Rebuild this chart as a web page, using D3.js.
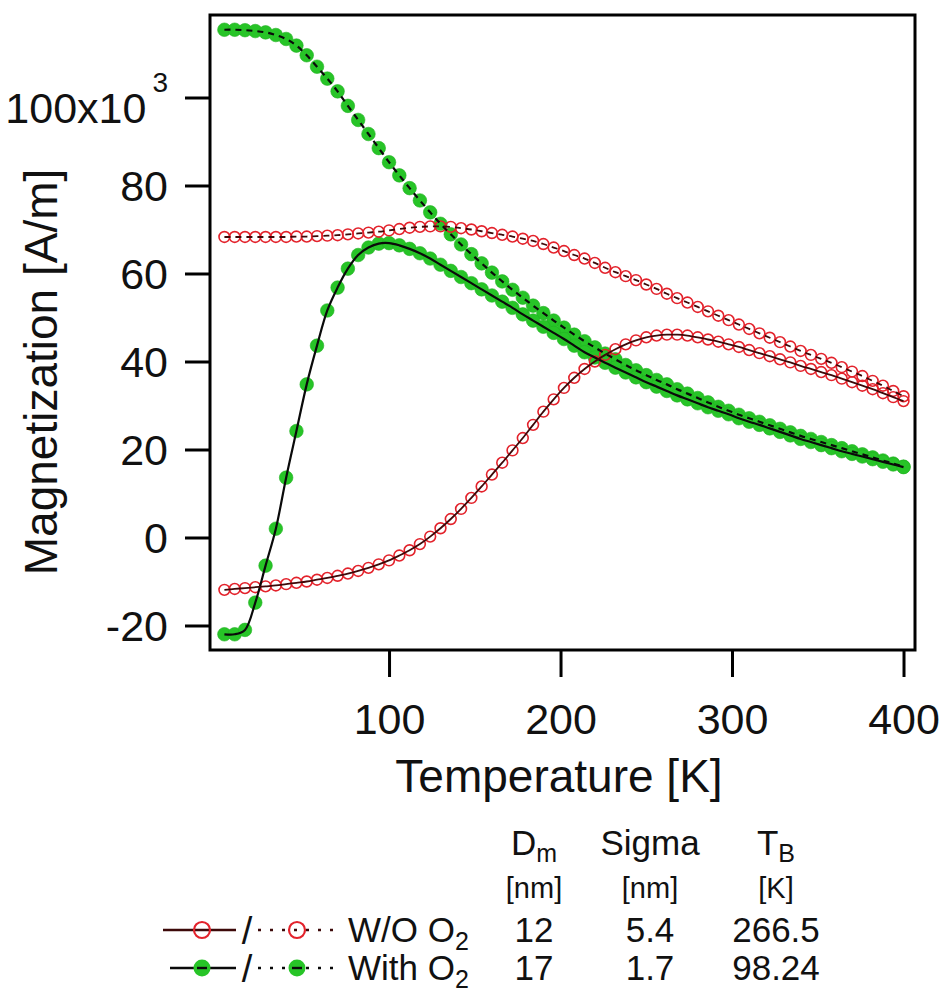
<!DOCTYPE html>
<html>
<head>
<meta charset="utf-8">
<script src="https://cdn.jsdelivr.net/npm/d3@7"></script>
<style>
  html, body { margin: 0; padding: 0; background: #fff; }
  svg { display: block; font-family: "Liberation Sans", Arial, Helvetica, sans-serif; }
</style>
</head>
<body>
<script>
// Temperature grid of the measurement [K]
const TEMPS = [4, 10, 16, 22, 28, 34, 40, 46, 52, 58, 64, 70, 76, 82, 88, 94, 100,
  106, 112, 118, 124, 130, 136, 142, 148, 154, 160, 166, 172, 178, 184, 190, 196,
  202, 208, 214, 220, 226, 232, 238, 244, 250, 256, 262, 268, 274, 280, 286, 292,
  298, 304, 310, 316, 322, 328, 334, 340, 346, 352, 358, 364, 370, 376, 382, 388,
  394, 400];

// Magnetization [x10^3 A/m], zero-field-cooled, sample without O2
const ZFC_WO = [-11.9, -11.7, -11.5, -11.3, -11.1, -10.9, -10.6, -10.3, -10.0, -9.6,
  -9.2, -8.7, -8.2, -7.6, -6.9, -6.1, -5.2, -4.1, -2.9, -1.5, 0.2, 2.1, 4.2, 6.5,
  9.0, 11.6, 14.3, 17.0, 19.8, 22.6, 25.6, 28.6, 31.4, 34.0, 36.3, 38.3, 40.0, 41.5,
  42.8, 43.9, 44.8, 45.5, 45.9, 46.1, 46.1, 45.9, 45.5, 45.0, 44.5, 43.9, 43.3, 42.6,
  41.9, 41.2, 40.5, 39.8, 39.0, 38.3, 37.6, 36.9, 36.1, 35.3, 34.5, 33.7, 32.8, 31.9,
  31.0];

// Field-cooled, sample without O2
const FC_WO = [68.3, 68.3, 68.3, 68.3, 68.3, 68.3, 68.3, 68.4, 68.4, 68.5, 68.6, 68.7,
  68.9, 69.1, 69.3, 69.5, 69.8, 70.1, 70.4, 70.6, 70.7, 70.7, 70.6, 70.3, 70.0, 69.6,
  69.2, 68.8, 68.4, 67.9, 67.4, 66.7, 65.9, 65.1, 64.2, 63.4, 62.4, 61.3, 60.3, 59.4,
  58.5, 57.5, 56.5, 55.4, 54.4, 53.4, 52.4, 51.4, 50.4, 49.4, 48.4, 47.4, 46.4, 45.4,
  44.4, 43.4, 42.4, 41.5, 40.6, 39.7, 38.7, 37.7, 36.7, 35.6, 34.5, 33.3, 32.1];

// Zero-field-cooled, sample with O2
const ZFC_WITH = [-22.0, -22.0, -21.0, -14.8, -6.4, 2.0, 13.6, 24.2, 34.8, 43.6, 51.6,
  56.8, 61.1, 64.2, 65.9, 66.8, 66.9, 66.4, 65.6, 64.6, 63.4, 62.0, 60.6, 59.2, 57.8,
  56.4, 55.0, 53.6, 52.2, 50.7, 49.3, 47.9, 46.5, 45.1, 43.6, 42.1, 40.9, 39.7, 38.6,
  37.5, 36.4, 35.3, 34.3, 33.3, 32.3, 31.4, 30.5, 29.6, 28.8, 28.0, 27.1, 26.3, 25.6,
  24.8, 24.0, 23.2, 22.4, 21.7, 21.0, 20.3, 19.6, 19.0, 18.4, 17.8, 17.2, 16.6, 16.0];

// Field-cooled, sample with O2
const FC_WITH = [115.4, 115.4, 115.3, 115.1, 114.8, 114.2, 113.3, 111.8, 109.6, 107.0,
  104.3, 101.4, 98.1, 94.9, 91.7, 88.5, 85.3, 82.3, 79.4, 76.6, 73.9, 71.3, 68.9, 66.6,
  64.4, 62.3, 60.2, 58.2, 56.3, 54.5, 52.7, 51.0, 49.3, 47.7, 46.1, 44.6, 43.2, 41.8,
  40.5, 39.2, 38.0, 36.9, 35.8, 34.8, 33.7, 32.7, 31.7, 30.7, 29.7, 28.8, 27.9, 27.1,
  26.3, 25.5, 24.7, 23.9, 23.1, 22.4, 21.7, 21.0, 20.3, 19.6, 18.9, 18.2, 17.5, 16.8,
  16.1];

// Axis ticks
const X_TICKS = [100, 200, 300, 400];
const Y_TICKS = [-20, 0, 20, 40, 60, 80, 100];

// Fit-parameter table
const SAMPLE_NAMES = ["W/O O", "With O"];
const D_M = ["12", "17"];
const SIGMA = ["5.4", "1.7"];
const T_B = ["266.5", "98.24"];

const W = 945, H = 1002;
const FONT = '"Liberation Sans", Arial, Helvetica, sans-serif';
const RED = "#e3222b", RED_LINE = "#3d0909";
const GREEN = "#27c427", GREEN_LINE = "#0a0a0a";

const svg = d3.select("body").append("svg")
  .attr("width", W).attr("height", H)
  .attr("viewBox", `0 0 ${W} ${H}`);

const plot = { left: 210, top: 15, right: 915, bottom: 650 };

const x = d3.scaleLinear().domain([-4.4, 406.7]).range([plot.left, plot.right]);
const y = d3.scaleLinear().domain([-25.57, 118.75]).range([plot.bottom, plot.top]);

const series = [
  { vals: FC_WITH, group: "with", dashed: true },
  { vals: ZFC_WITH, group: "with", dashed: false },
  { vals: FC_WO, group: "wo", dashed: true },
  { vals: ZFC_WO, group: "wo", dashed: false }
];

const pts = s => TEMPS.map((t, i) => [t, s.vals[i]]);

// markers: filled green for the O2 sample, open red for the sample without O2
const markerLayer = svg.append("g");
series.filter(s => s.group === "with").forEach(s => {
  markerLayer.append("g").selectAll("circle").data(pts(s)).join("circle")
    .attr("cx", d => x(d[0])).attr("cy", d => y(d[1]))
    .attr("r", 6.8).attr("fill", GREEN).attr("stroke", "#22b222").attr("stroke-width", 0.6);
});
series.filter(s => s.group === "wo").forEach(s => {
  markerLayer.append("g").selectAll("circle").data(pts(s)).join("circle")
    .attr("cx", d => x(d[0])).attr("cy", d => y(d[1]))
    .attr("r", 5.4).attr("fill", "none").attr("stroke", RED).attr("stroke-width", 1.6);
});

// fitted curves drawn over the markers
const line = d3.line().x(d => x(d[0])).y(d => y(d[1])).curve(d3.curveCatmullRom);
series.forEach(s => {
  svg.append("path").datum(pts(s))
    .attr("d", line)
    .attr("fill", "none")
    .attr("stroke", s.group === "with" ? GREEN_LINE : RED_LINE)
    .attr("stroke-width", s.group === "with" ? 2.2 : 1.8)
    .attr("stroke-dasharray", s.dashed ? "6,5" : null);
});

// plot frame
svg.append("rect")
  .attr("x", plot.left).attr("y", plot.top)
  .attr("width", plot.right - plot.left).attr("height", plot.bottom - plot.top)
  .attr("fill", "none").attr("stroke", "#000").attr("stroke-width", 3);

// axes
const xAxis = d3.axisBottom(x).tickValues(X_TICKS).tickSize(27).tickPadding(26)
  .tickSizeOuter(0).tickFormat(d => String(d));
const gx = svg.append("g").attr("transform", `translate(0,${plot.bottom})`).call(xAxis);
gx.select(".domain").remove();
gx.selectAll(".tick line").attr("stroke", "#000").attr("stroke-width", 3);
gx.selectAll(".tick text").attr("fill", "#111").attr("font-size", 43).attr("font-family", FONT);

const yAxis = d3.axisLeft(y).tickValues(Y_TICKS).tickSize(25).tickPadding(17)
  .tickSizeOuter(0).tickFormat(d => String(d));
const gy = svg.append("g").attr("transform", `translate(${plot.left},0)`).call(yAxis);
gy.select(".domain").remove();
gy.selectAll(".tick line").attr("stroke", "#000").attr("stroke-width", 3);
gy.selectAll(".tick text").attr("fill", "#111").attr("font-size", 43)
  .attr("font-family", FONT).attr("dy", "0.36em");
gy.selectAll(".tick text").filter(d => d === 100)
  .text(null).attr("dy", 25)
  .call(t => {
    t.append("tspan").text("100x10");
    t.append("tspan").attr("dx", 6).attr("dy", -31).attr("font-size", 28).text("3");
  });

// axis titles
svg.append("text")
  .attr("x", 559).attr("y", 792)
  .attr("text-anchor", "middle").attr("font-size", 46).attr("fill", "#111")
  .text("Temperature [K]");

svg.append("text")
  .attr("transform", "translate(57,372) rotate(-90)")
  .attr("text-anchor", "middle").attr("font-size", 46).attr("fill", "#111")
  .text("Magnetization [A/m]");

// fit-parameter legend
const leg = svg.append("g").attr("fill", "#111");
const COLS = [534, 650, 776];

function subText(g, xPos, yPos, main, sub, size, subSize) {
  const t = g.append("text").attr("x", xPos).attr("y", yPos)
    .attr("text-anchor", "middle").attr("font-size", size);
  t.append("tspan").text(main);
  t.append("tspan").attr("font-size", subSize).attr("dy", 7).text(sub);
  return t;
}

subText(leg, COLS[0], 855, "D", "m", 35, 25);
leg.append("text").attr("x", COLS[1]).attr("y", 855).attr("text-anchor", "middle")
  .attr("font-size", 35).text("Sigma");
subText(leg, COLS[2], 855, "T", "B", 35, 25);

["[nm]", "[nm]", "[K]"].forEach((u, i) => {
  leg.append("text").attr("x", COLS[i]).attr("y", 898).attr("text-anchor", "middle")
    .attr("font-size", 29).text(u);
});

const ROW_BASE = [942, 980];
SAMPLE_NAMES.forEach((name, i) => {
  const by = ROW_BASE[i];
  const cy = by - 12;
  const isWith = i === 1;
  const lineCol = isWith ? GREEN_LINE : RED_LINE;
  const x0 = isWith ? 170 : 163;

  // solid-line sample (ZFC)
  leg.append("line").attr("x1", x0).attr("x2", 236).attr("y1", cy).attr("y2", cy)
    .attr("stroke", lineCol).attr("stroke-width", 2.6);
  // dotted-line sample (FC)
  leg.append("line").attr("x1", 258).attr("x2", 334).attr("y1", cy).attr("y2", cy)
    .attr("stroke", lineCol).attr("stroke-width", 2.6).attr("stroke-dasharray", "3,9");

  [202, 297].forEach(mx => {
    if (isWith) {
      leg.append("circle").attr("cx", mx).attr("cy", cy).attr("r", 8.5).attr("fill", GREEN);
      leg.append("line").attr("x1", mx - 5).attr("x2", mx + 5).attr("y1", cy).attr("y2", cy)
        .attr("stroke", lineCol).attr("stroke-width", 2.4);
    } else {
      leg.append("circle").attr("cx", mx).attr("cy", cy).attr("r", 8)
        .attr("fill", "none").attr("stroke", RED).attr("stroke-width", 2.2);
    }
  });

  leg.append("text").attr("x", 247).attr("y", by + 2).attr("text-anchor", "middle")
    .attr("font-size", 38).text("/");

  const nt = leg.append("text").attr("x", 348).attr("y", by).attr("font-size", 35);
  nt.append("tspan").text(name);
  nt.append("tspan").attr("font-size", 25).attr("dy", 8).text("2");

  [D_M[i], SIGMA[i], T_B[i]].forEach((v, j) => {
    leg.append("text").attr("x", COLS[j]).attr("y", by).attr("text-anchor", "middle")
      .attr("font-size", 35).text(v);
  });
});
</script>
</body>
</html>
